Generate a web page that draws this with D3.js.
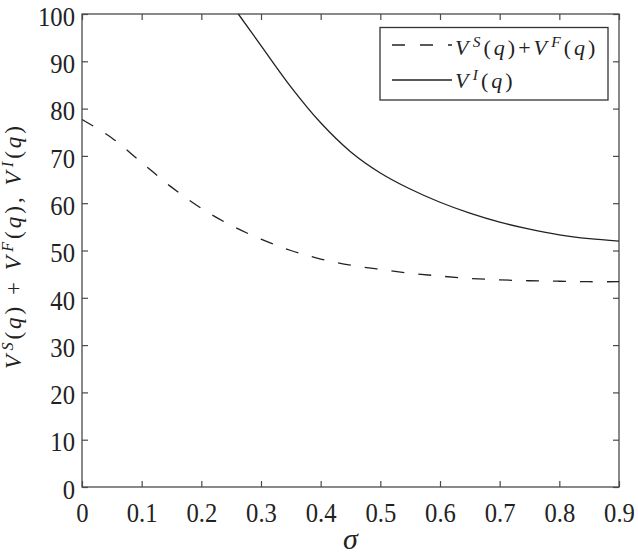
<!DOCTYPE html>
<html>
<head>
<meta charset="utf-8">
<script src="https://cdn.jsdelivr.net/npm/d3@7"></script>
<style>
  body { margin: 0; background: #fff; }
  svg { display: block; }
</style>
</head>
<body>
<svg width="638" height="554"></svg>
<script>
document.addEventListener('DOMContentLoaded', () => {
    // values
    const sigmaSF = [0, 0.05, 0.1, 0.15, 0.2, 0.25, 0.3, 0.35, 0.4, 0.45, 0.5, 0.55, 0.6, 0.65, 0.7, 0.75, 0.8, 0.85, 0.9];
    const valuesSF = [77.7, 73.8, 68.6, 63.4, 58.9, 55.3, 52.4, 50.0, 48.2, 46.9, 46.0, 45.2, 44.6, 44.1, 43.8, 43.6, 43.5, 43.4, 43.4];

    const sigmaI = [0.262, 0.3, 0.35, 0.4, 0.45, 0.5, 0.55, 0.6, 0.65, 0.7, 0.75, 0.8, 0.85, 0.9];
    const valuesI = [100, 93.3, 84.6, 77.0, 70.9, 66.4, 63.0, 60.2, 57.9, 56.0, 54.5, 53.3, 52.5, 52.0];

    const xTicks = [0, 0.1, 0.2, 0.3, 0.4, 0.5, 0.6, 0.7, 0.8, 0.9];
    const yTicks = [0, 10, 20, 30, 40, 50, 60, 70, 80, 90, 100];

    // Times-like faces first, whatever is installed wins
    const face = '"Liberation Serif", "Times New Roman", Tinos, "Nimbus Roman", "DejaVu Serif", "Noto Serif", serif';

    // plot box
    const left = 82, right = 619, top = 14, bottom = 487;
    const ink = "#222";
    const axisColor = "#4a4a4a";
    const squeeze = 0.88; // tick labels look horizontally condensed

    const svg = d3.select("svg").attr("font-family", face);

    const x = d3.scaleLinear().domain([0, 0.9]).range([left, right]);
    const y = d3.scaleLinear().domain([0, 100]).range([bottom, top]);

    // frame
    svg.append("rect")
        .attr("x", left).attr("y", top)
        .attr("width", right - left).attr("height", bottom - top)
        .attr("fill", "none")
        .attr("stroke", axisColor)
        .attr("stroke-width", 1.3);

    function styleAxis(g) {
        g.attr("font-family", face);
        g.select(".domain").remove();
        g.selectAll("line").attr("stroke", axisColor).attr("stroke-width", 1.2);
        g.selectAll("text")
            .attr("fill", ink)
            .attr("font-size", 28);
    }

    // bottom axis with labels, ticks inward
    svg.append("g")
        .attr("transform", `translate(0, ${bottom})`)
        .call(d3.axisBottom(x).tickValues(xTicks).tickSizeInner(-6).tickSizeOuter(0).tickPadding(15)
            .tickFormat(d => d === 0 ? "0" : d3.format(".1f")(d)))
        .call(styleAxis)
        .selectAll("text").attr("transform", `scale(${squeeze},1)`);

    // left axis with labels
    svg.append("g")
        .attr("transform", `translate(${left}, 0)`)
        .call(d3.axisLeft(y).tickValues(yTicks).tickSizeInner(-6).tickSizeOuter(0).tickPadding(8))
        .call(styleAxis)
        .selectAll("text").attr("dy", "0.4em").attr("transform", `scale(${squeeze},1)`);

    // mirrored ticks on top and right
    svg.append("g")
        .attr("transform", `translate(0, ${top})`)
        .call(d3.axisTop(x).tickValues(xTicks).tickSizeInner(-6).tickSizeOuter(0).tickFormat(""))
        .call(styleAxis);

    svg.append("g")
        .attr("transform", `translate(${right}, 0)`)
        .call(d3.axisRight(y).tickValues(yTicks).tickSizeInner(-6).tickSizeOuter(0).tickFormat(""))
        .call(styleAxis);

    // curves
    const line = d3.line()
        .x(d => x(d[0]))
        .y(d => y(d[1]))
        .curve(d3.curveCatmullRom.alpha(0.5));

    svg.append("path")
        .datum(d3.zip(sigmaSF, valuesSF))
        .attr("fill", "none")
        .attr("stroke", ink)
        .attr("stroke-width", 1.3)
        .attr("stroke-dasharray", "13,14")
        .attr("d", line);

    svg.append("path")
        .datum(d3.zip(sigmaI, valuesI))
        .attr("fill", "none")
        .attr("stroke", ink)
        .attr("stroke-width", 1.3)
        .attr("d", line);

    // math-like text: pieces with italic / superscript flags
    function mathText(sel, parts, size) {
        let shifted = false;
        parts.forEach(p => {
            const ts = sel.append("tspan").text(p.t);
            if (p.i) ts.attr("font-style", "italic");
            if (p.sup && !shifted) {
                ts.attr("dy", -size * 0.36).attr("font-size", size * 0.7).attr("dx", size * 0.06);
                shifted = true;
            } else if (!p.sup && shifted) {
                ts.attr("dy", size * 0.36);
                shifted = false;
            }
        });
    }
    // spread letters so that the text spans the width
    function fitSpacing(sel, target) {
        const w = sel.node().getComputedTextLength();
        const n = sel.text().length;
        const ls = Math.max(0, Math.min(3, (target - w) / n));
        sel.attr("letter-spacing", ls);
    }

    const sumParts = [
        { t: "V", i: true }, { t: "S", i: true, sup: true }, { t: "(" }, { t: "q", i: true }, { t: ")" },
        { t: " + " },
        { t: "V", i: true }, { t: "F", i: true, sup: true }, { t: "(" }, { t: "q", i: true }, { t: ")" }
    ];
    const iParts = [{ t: "V", i: true }, { t: "I", i: true, sup: true }, { t: "(" }, { t: "q", i: true }, { t: ")" }];

    // legend
    const legend = svg.append("g");
    legend.append("rect")
        .attr("x", 380).attr("y", 27.5)
        .attr("width", 228).attr("height", 72.5)
        .attr("fill", "#fff")
        .attr("stroke", "#333")
        .attr("stroke-width", 1.3);

    legend.append("line")
        .attr("x1", 392).attr("x2", 452).attr("y1", 45).attr("y2", 45)
        .attr("stroke", ink).attr("stroke-width", 1.3)
        .attr("stroke-dasharray", "13,15");
    legend.append("line")
        .attr("x1", 392).attr("x2", 452).attr("y1", 80).attr("y2", 80)
        .attr("stroke", ink).attr("stroke-width", 1.3);

    const legSize = 22;
    const leg1 = legend.append("text").attr("x", 455).attr("y", 55)
        .attr("font-size", legSize).attr("fill", ink);
    mathText(leg1, sumParts.map(p => p.t === " + " ? { t: "+" } : p), legSize);
    fitSpacing(leg1, 146);

    const leg2 = legend.append("text").attr("x", 455).attr("y", 88)
        .attr("font-size", legSize).attr("fill", ink)
        .attr("letter-spacing", leg1.attr("letter-spacing"));
    mathText(leg2, iParts, legSize);

    // axis titles
    svg.append("text")
        .attr("x", x(0.45)).attr("y", 549)
        .attr("text-anchor", "middle")
        .attr("font-size", 30)
        .attr("font-style", "italic")
        .attr("fill", ink)
        .text("σ");

    const ylab = svg.append("text")
        .attr("transform", "translate(21, 246) rotate(-90)")
        .attr("text-anchor", "middle")
        .attr("font-size", 23)
        .attr("fill", ink);
    mathText(ylab, sumParts.concat([{ t: ", " }], iParts), 23);
    fitSpacing(ylab, 266);
});
</script>
</body>
</html>
